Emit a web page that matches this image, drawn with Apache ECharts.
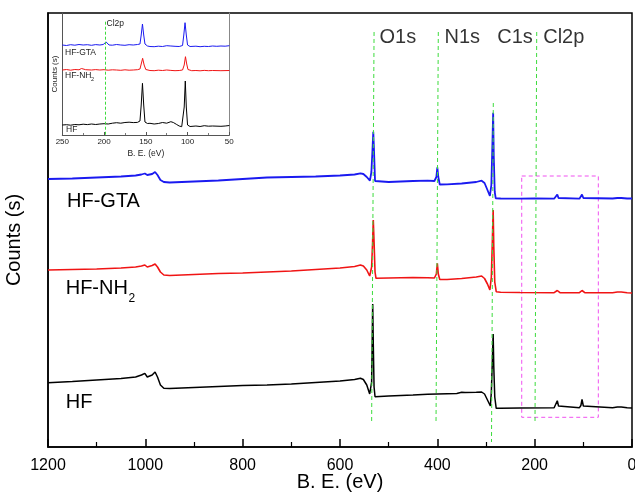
<!DOCTYPE html>
<html>
<head>
<meta charset="utf-8">
<script src="https://cdn.jsdelivr.net/npm/echarts@6/dist/echarts.min.js"></script>
<style>
  html, body { margin: 0; padding: 0; background: #fff; }
  #chart { width: 635px; height: 492px; }
</style>
</head>
<body>
<div id="chart"></div>
<script>
// Survey XPS spectra, [binding energy (eV), counts (a.u., stacked offsets)]
const surveyGTA = [
  [1200, 268], [1150, 268.5], [1100, 269.5], [1050, 270.5], [1020, 271.5], [1008, 272.5],
  [1001, 273.5], [996, 272], [992, 271.5], [986, 273], [980, 275], [975, 272], [969, 267],
  [962, 265], [950, 264.5], [900, 265.5], [850, 266.5], [800, 268], [750, 269.5], [700, 270],
  [650, 270.5], [600, 271.5], [570, 272.5], [558, 273.7], [552, 273], [545, 270], [538.5, 266.3],
  [535.5, 275], [533, 300], [531.6, 315.3], [530, 295], [528, 266], [526, 264.7], [500, 265],
  [450, 266], [420, 266.3], [406, 266], [402, 270], [400, 279.7], [398, 270], [395, 262.5],
  [380, 262.7], [350, 263.5], [320, 265], [309, 266.3], [303, 264], [297, 257], [292, 251],
  [289, 262], [287, 300], [285.3, 334.3], [284, 290], [282, 255], [280, 248.7], [270, 248.5],
  [230, 248.3], [200, 248.5], [198, 249.5], [196, 248.5], [160, 248.3], [156, 249.5],
  [153.5, 252.5], [151, 249], [148, 248.3], [108, 248.3], [105, 249.5], [102.7, 252.5],
  [100, 249], [97, 248.3], [40, 248.5], [30, 249], [26, 250], [22, 249], [10, 248.5], [0, 248.5]
];
const surveyNH2 = [
  [1200, 177], [1150, 177.5], [1100, 178], [1050, 179], [1020, 180], [1008, 181], [1001, 182],
  [996, 180], [992, 179.7], [986, 181.5], [980, 183], [975, 180], [969, 175], [962, 172],
  [950, 171.5], [900, 172.5], [850, 173.5], [800, 174], [750, 175], [700, 176], [650, 177.5],
  [600, 179], [570, 180.5], [558, 182], [552, 181], [545, 177], [539, 171], [537, 170.3],
  [535, 180], [533, 205], [531.6, 227], [530, 205], [528, 175], [526, 168.7], [500, 169],
  [450, 169.5], [420, 169.3], [406, 169], [402, 173], [400, 183.7], [398, 173], [395, 167.5],
  [380, 167.5], [350, 168.5], [320, 170], [309, 171], [303, 168.5], [297, 163], [292, 157],
  [289, 170], [287, 205], [285.3, 237], [284, 200], [282, 165], [279, 155.3], [270, 154.8],
  [230, 154.5], [160, 154.3], [156, 155], [153.5, 156.5], [151, 154.8], [148, 154.3],
  [108, 154.3], [105, 155], [102.7, 156.5], [100, 154.8], [97, 154.3], [40, 154.3], [30, 155],
  [26, 155.8], [22, 155], [10, 154.3], [0, 154]
];
const surveyHF = [
  [1200, 64.3], [1150, 65.5], [1100, 67], [1050, 68.5], [1020, 70], [1008, 72], [1001, 73.7],
  [996, 70], [992, 69.7], [986, 72], [980, 75], [975, 70], [969, 62], [962, 58.7], [950, 58.5],
  [900, 59.5], [850, 60.5], [800, 61.5], [750, 62], [700, 63], [650, 64.5], [600, 66],
  [570, 67.5], [558, 68.7], [552, 67.5], [545, 62], [539, 53], [537, 52], [535, 65], [534, 100],
  [532.8, 143], [531.5, 100], [530, 60], [528, 50.3], [500, 51], [450, 52], [420, 52.7],
  [400, 53], [360, 53.5], [350, 54.7], [346.6, 56.5], [343, 54.5], [320, 54.7], [309, 55],
  [303, 53], [297, 47], [291, 41], [289, 55], [287, 85], [285.3, 113], [284, 80], [282, 50],
  [279, 38.7], [270, 38.8], [230, 39], [160, 39.3], [156, 41], [153.5, 46.3], [151, 41],
  [148, 39.3], [108, 39.3], [105, 41.5], [102.7, 47.7], [100, 41], [97, 39.3], [40, 39.3],
  [30, 40], [26, 41.3], [22, 40], [10, 39.3], [0, 39]
];

// Narrow scan 250–50 eV (inset)
const detailGTA = [
  [250, 90], [245, 89.5], [240, 90.3], [235, 89.8], [230, 90.5], [225, 90], [220, 90.3],
  [215, 89.7], [210, 90.4], [205, 90], [201, 90.5], [199, 92], [197.5, 93], [196, 91.5],
  [194, 90], [190, 89.8], [185, 90.5], [180, 90], [175, 89.7], [170, 90.3], [165, 90],
  [160, 90.5], [157, 91], [155.5, 100], [154, 111], [152.5, 100], [151, 91], [148, 89],
  [145, 88.5], [140, 88.3], [135, 88.8], [130, 88.5], [125, 89.3], [120, 89], [115, 88.7],
  [110, 88.5], [106, 89.5], [104.5, 100], [103, 112.3], [101.5, 100], [100, 90], [97, 88.5],
  [90, 88.8], [85, 88.3], [80, 88.7], [75, 88.5], [70, 89], [65, 88.7], [60, 89], [55, 88.8],
  [50, 89.3]
];
const detailNH2 = [
  [250, 65], [245, 65.5], [240, 64.8], [235, 65.5], [230, 65.2], [227, 66.5], [225, 66.7],
  [222, 65.3], [215, 65], [210, 65.4], [205, 65], [200, 65.3], [195, 64.8], [190, 65.2],
  [185, 65], [180, 64.7], [175, 65.2], [170, 64.8], [165, 65], [160, 65.3], [157, 66],
  [155.5, 71], [153.8, 76.7], [152, 70], [150, 65.5], [145, 64.5], [140, 64.3], [135, 64.8],
  [130, 64.5], [125, 65], [120, 64.6], [115, 64.3], [110, 64.5], [106, 65], [104, 70],
  [102.5, 78.3], [101, 71], [99.5, 65.5], [95, 64.3], [90, 64.5], [85, 64.2], [80, 64.6],
  [75, 64.3], [70, 64.5], [60, 64.3], [50, 64.5]
];
const detailHF = [
  [250, 10], [245, 10.3], [240, 9.8], [235, 10.5], [230, 10.2], [225, 10.8], [220, 10.4],
  [215, 11], [210, 10.5], [205, 11], [200, 11.3], [195, 11], [190, 11.8], [185, 12.3],
  [180, 11.8], [175, 12.5], [170, 12.8], [165, 12.4], [160, 12.6], [157, 14], [155.5, 30],
  [154, 51.7], [152.5, 30], [151, 13], [148, 11.5], [145, 11.7], [140, 11], [135, 11.5],
  [130, 12.5], [125, 11.8], [120, 13.3], [117, 12.5], [113, 10.5], [110, 9], [107, 8.3],
  [105, 10], [104, 28], [102.7, 54], [101.5, 28], [100, 10], [97, 8.5], [90, 9], [85, 8.5],
  [80, 9.3], [75, 8.8], [70, 9], [60, 8.7], [55, 9], [50, 9.5]
];

// Core-level reference lines: [label, BE at top, counts at top, BE at bottom, counts at bottom]
const coreLines = [
  ['O1s', 530, 415, 535, 24],
  ['N1s', 398, 415, 402.7, 24],
  ['C1s', 285, 344, 288.7, 5],
  ['Cl2p', 195.8, 415, 199.3, 24]
];
// Core-level label anchors: [BE, counts, text]
const coreLabels = [
  [519.9, 409.7, 'O1s'],
  [386.3, 409.7, 'N1s'],
  [278, 409.7, 'C1s'],
  [183.5, 409.7, 'Cl2p']
];
// Zoomed window (BE from, counts top, BE to, counts bottom)
const zoomWindow = [226.6, 271, 69.2, 29.7];
// Inset Cl2p guide: [BE, counts top, counts bottom]
const insetGuide = [198, 113.3, 0];

const mainTicks = { min: 0, max: 1200, step: 200 };
const insetTicks = { min: 50, max: 250, step: 50 };

const FONT = '"Liberation Sans", Arial, sans-serif';
const BLUE = '#1a1af0';
const RED = '#f01414';
const BLACK = '#000000';
const GREEN = '#3ddc3d';

const chart = echarts.init(document.getElementById('chart'), null, { renderer: 'canvas' });

const lineSeries = (name, data, color, width, axisIdx, extra) => Object.assign({
  name, type: 'line', data, xAxisIndex: axisIdx, yAxisIndex: axisIdx,
  showSymbol: false, symbol: 'none', smooth: false,
  lineStyle: { color, width }, itemStyle: { color }, z: 3
}, extra || {});

const plain = v => String(v);

const option = {
  animation: false,
  backgroundColor: '#fff',
  textStyle: { fontFamily: FONT },
  grid: [
    { left: 48, top: 13, width: 584, height: 434, show: true, borderColor: '#000', borderWidth: 1.5,
      backgroundColor: 'transparent', outerBoundsMode: 'none', containLabel: false },
    { left: 62.3, top: 13, width: 167, height: 122, show: false, outerBoundsMode: 'none', containLabel: false }
  ],
  xAxis: [
    {
      gridIndex: 0, type: 'value', min: mainTicks.min, max: mainTicks.max, interval: mainTicks.step, inverse: true,
      axisLine: { onZero: false, lineStyle: { color: '#000', width: 1.5 } },
      axisTick: { inside: true, length: 8, lineStyle: { color: '#000', width: 1.5 } },
      minorTick: { show: true, splitNumber: 2, length: 5, lineStyle: { color: '#000', width: 1.2 } },
      splitLine: { show: false }, minorSplitLine: { show: false },
      axisLabel: { fontSize: 16, color: '#000', margin: 11, fontFamily: FONT, hideOverlap: false, formatter: plain },
      name: 'B. E. (eV)', nameLocation: 'middle', nameGap: 25, nameMoveOverlap: false,
      nameTextStyle: { fontSize: 20, color: '#000', fontFamily: FONT }
    },
    {
      gridIndex: 1, type: 'value', min: insetTicks.min, max: insetTicks.max, interval: insetTicks.step, inverse: true,
      axisLine: { onZero: false, lineStyle: { color: '#555', width: 1 } },
      axisTick: { inside: true, length: 3, lineStyle: { color: '#555', width: 1 } },
      minorTick: { show: true, splitNumber: 2, length: 2, lineStyle: { color: '#555', width: 0.8 } },
      splitLine: { show: false },
      axisLabel: { fontSize: 8, color: '#222', margin: 3, fontFamily: FONT, formatter: plain },
      name: 'B. E. (eV)', nameLocation: 'middle', nameGap: 14, nameMoveOverlap: false,
      nameTextStyle: { fontSize: 8.5, color: '#222', fontFamily: FONT }
    }
  ],
  yAxis: [
    {
      gridIndex: 0, type: 'value', min: 0, max: 434,
      axisLine: { show: true, onZero: false, lineStyle: { color: '#000', width: 1.5 } },
      axisTick: { show: false }, axisLabel: { show: false }, splitLine: { show: false },
      name: 'Counts (s)', nameLocation: 'middle', nameGap: 24, nameRotate: 90,
      nameTextStyle: { fontSize: 20, color: '#000', fontFamily: FONT, padding: [0, 20, 0, 0] }
    },
    {
      gridIndex: 1, type: 'value', min: 0, max: 122,
      axisLine: { show: true, onZero: false, lineStyle: { color: '#555', width: 1 } },
      axisTick: { show: false }, axisLabel: { show: false }, splitLine: { show: false },
      name: 'Counts (s)', nameLocation: 'middle', nameGap: 4, nameRotate: 90,
      nameTextStyle: { fontSize: 8, color: '#222', fontFamily: FONT }
    },
    {
      gridIndex: 1, type: 'value', min: 0, max: 122, position: 'right',
      axisLine: { show: true, onZero: false, lineStyle: { color: '#888', width: 1 } },
      axisTick: { show: false }, axisLabel: { show: false }, splitLine: { show: false }
    }
  ],
  series: [
    lineSeries('HF-GTA', surveyGTA, BLUE, 1.8, 0, {
      markArea: {
        silent: true,
        itemStyle: { color: 'rgba(0,0,0,0)', borderColor: '#f050f0', borderWidth: 1, borderType: [4, 3] },
        data: [[{ coord: [zoomWindow[0], zoomWindow[1]] }, { coord: [zoomWindow[2], zoomWindow[3]] }]]
      },
      markLine: {
        silent: true, symbol: ['none', 'none'], label: { show: false },
        lineStyle: { color: GREEN, width: 1, type: [4, 3] },
        data: coreLines.map(c => [{ coord: [c[1], c[2]] }, { coord: [c[3], c[4]] }])
      }
    }),
    lineSeries('HF-NH2', surveyNH2, RED, 1.6, 0),
    lineSeries('HF', surveyHF, BLACK, 1.5, 0),
    {
      name: 'core levels', type: 'scatter', xAxisIndex: 0, yAxisIndex: 0,
      data: coreLabels, symbolSize: 1, itemStyle: { color: 'rgba(0,0,0,0)' }, silent: true,
      label: {
        show: true, position: 'right', distance: 0, formatter: p => p.value[2],
        fontSize: 20, color: '#000', fontFamily: FONT
      }
    },
    lineSeries('HF-GTA (detail)', detailGTA, BLUE, 1, 1, {
      markLine: {
        silent: true, symbol: ['none', 'none'], label: { show: false },
        lineStyle: { color: GREEN, width: 1, type: [3, 2] },
        data: [[{ coord: [insetGuide[0], insetGuide[1]] }, { coord: [insetGuide[0], insetGuide[2]] }]]
      }
    }),
    lineSeries('HF-NH2 (detail)', detailNH2, RED, 1, 1),
    lineSeries('HF (detail)', detailHF, BLACK, 1, 1)
  ],
  graphic: [
    { type: 'text', x: 67, y: 201.7, style: { text: 'HF-GTA', fontSize: 20, fontFamily: FONT, fill: '#000', verticalAlign: 'middle' } },
    { type: 'text', x: 65.7, y: 288.3, style: { text: 'HF-NH', fontSize: 20, fontFamily: FONT, fill: '#000', verticalAlign: 'middle' } },
    { type: 'text', x: 128.5, y: 298.5, style: { text: '2', fontSize: 12, fontFamily: FONT, fill: '#000', verticalAlign: 'middle' } },
    { type: 'text', x: 65.7, y: 402.3, style: { text: 'HF', fontSize: 20, fontFamily: FONT, fill: '#000', verticalAlign: 'middle' } },
    { type: 'text', x: 65, y: 53, style: { text: 'HF-GTA', fontSize: 8.5, fontFamily: FONT, fill: '#222', verticalAlign: 'middle' } },
    { type: 'text', x: 65, y: 76, style: { text: 'HF-NH', fontSize: 8.5, fontFamily: FONT, fill: '#222', verticalAlign: 'middle' } },
    { type: 'text', x: 91, y: 79.5, style: { text: '2', fontSize: 5.5, fontFamily: FONT, fill: '#222', verticalAlign: 'middle' } },
    { type: 'text', x: 66, y: 129.3, style: { text: 'HF', fontSize: 8.5, fontFamily: FONT, fill: '#222', verticalAlign: 'middle' } },
    { type: 'text', x: 106.5, y: 24, style: { text: 'Cl2p', fontSize: 8.5, fontFamily: FONT, fill: '#222', verticalAlign: 'middle' } }
  ]
};

chart.setOption(option);
</script>
</body>
</html>
